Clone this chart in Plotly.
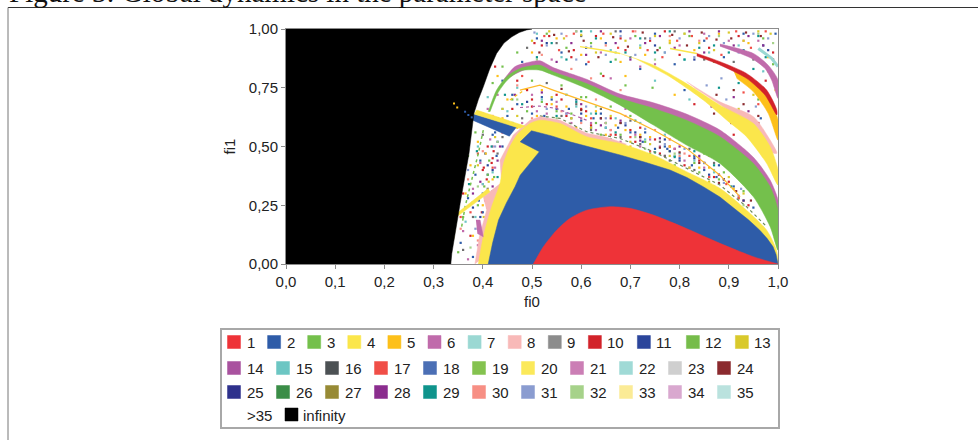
import plotly.graph_objects as go

TITLE = "Figure 3: Global dynamics in the parameter space"
x_ticks = [0, .1, .2, .3, .4, .5, .6, .7, .8, .9, 1]
y_ticks = [0, .25, .5, .75, 1]
legend_rows = [
    ["1","2","3","4","5","6","7","8","9","10","11","12","13"],
    ["14","15","16","17","18","19","20","21","22","23","24"],
    ["25","26","27","28","29","30","31","32","33","34","35"],
]
legend_colors = {
 "1":"#EE3338","2":"#2E5CA8","3":"#74C04C","4":"#FBE64B","5":"#FDC01A","6":"#C06BAB","7":"#9BD8D3",
 "8":"#F8B9B8","9":"#8C8C8C","10":"#D2232A","11":"#2B459B","12":"#76BC4A","13":"#D9C92B","14":"#A9529F",
 "15":"#6CC6C3","16":"#4C5154","17":"#F04E47","18":"#4B6FB5","19":"#84C24F","20":"#FBE95A","21":"#CB7EB5",
 "22":"#A0DAD6","23":"#CFCFCF","24":"#8B2A2E","25":"#2E318C","26":"#3A8D47","27":"#978A35","28":"#8B2D8E",
 "29":"#0F948C","30":"#F78F84","31":"#8A9CD0","32":"#A6D28A","33":"#FBEB96","34":"#D9A8CF","35":"#BAE2DE",
}

# Region outlines (fi0, fi1)
black_x = [0,.335,.337,.345,.354,.363,.372,.382,.391,.401,.414,.428,.443,.459,.474,.489,.50,0]
black_y = [0,0,.045,.15,.258,.365,.471,.641,.70,.754,.83,.896,.94,.967,.985,.996,1.0,1]
red_x = [.5027,.523,.55,.577,.611,.659,.699,.747,.814,.882,.95,1]
red_y = [0,.073,.144,.194,.229,.244,.237,.208,.151,.088,.031,0]
blue_x = [.411,.42,.432,.448,.4655,.476,.515,.476,.499,.54,.577,.63,.679,.73,.7805,.815,.848,.882,.916,.94,.963,.978,.99,.996,1]
blue_y = [0,.09,.187,.26,.329,.378,.478,.52,.567,.545,.52,.492,.464,.433,.4,.368,.329,.285,.229,.188,.144,.108,.073,.04,0]
yellow_x = [.391,.401,.418,.435,.442,.455,.472,.496,.516,.557,.611,.679,.747,.814,.882,.936,.977,.997,1]
yellow_y = [0,.116,.244,.343,.428,.499,.556,.598,.612,.598,.542,.513,.464,.393,.322,.229,.144,.059,0]
spike_x = [.4113,.347,.349,.4147]
spike_y = [.322,.215,.204,.3075]
spike_tail_x = [.348,.341]
spike_tail_y = [.21,.105]
pink_x = [.384,.393,.408,.401,.4384,.435,.462,.496,.516,.557,.611,.652,.692,.6,.45]
pink_y = [0,.116,.23,.286,.347,.442,.549,.612,.627,.612,.556,.539,.51,.4,.1]
wedge_x = [.381,.469,.454,.3795]
wedge_y = [.638,.584,.544,.612]
stripe_x = [.3875,.486,.476,.382]
stripe_y = [.655,.587,.577,.638]
green_x = [.411,.428,.4485,.476,.516,.543,.611,.679,.747,.814,.882,.95,.984,1,1,.984,.95,.882,.814,.747,.679,.611,.543,.516,.476,.45,.43,.4147]
green_y = [.648,.74,.797,.832,.846,.818,.768,.705,.662,.612,.542,.428,.329,.229,.059,.159,.286,.428,.506,.591,.676,.747,.804,.825,.822,.783,.726,.648]
purple_x = [.442,.4655,.489,.516,.543,.611,.679,.747,.814,.882,.95,.984,1,1,.95,.8,.6,.5,.45]
purple_y = [.783,.84,.856,.865,.836,.786,.723,.686,.638,.57,.454,.357,.272,.215,.35,.58,.76,.835,.79]
upyellow_x = [.679,.747,.814,.882,.95,.984,1,1,.977,.936,.896,.848,.78,.713]
upyellow_y = [.896,.846,.768,.676,.598,.499,.4,.336,.428,.542,.612,.698,.797,.871]
uppink_x = [.814,.882,.95,.98,.9976,.98,.9,.83]
uppink_y = [.776,.69,.627,.541,.471,.48,.65,.75]
orange_x = [.909,.95,.984,1,1,.98,.95,.916]
orange_y = [.825,.776,.698,.613,.527,.641,.733,.79]
redband_x = [.835,.882,.936,.977,.9976,.9976,.9736,.936,.882,.835]
redband_y = [.896,.861,.811,.74,.655,.634,.719,.79,.847,.885]
uppurple_x = [.882,.95,.98,1,1,.987,.9736,.9465,.882]
uppurple_y = [.936,.896,.846,.783,.705,.783,.832,.875,.927]
patch_x = [.386,.3945,.401,.389]
patch_y = [.187,.187,.116,.13]
teal_x = [.96,.987,1]
teal_y = [.917,.875,.84]
thin_yellow_x = [.5976,.645,.679]
thin_yellow_y = [.925,.91,.896]
thin_yellow2_x = [.7805,.835]
thin_yellow2_y = [.917,.896]
thin_orange_x = [.4756,.516,.543,.611,.679,.747,.814,.882,.923]
thin_orange_y = [.74,.761,.74,.69,.641,.57,.492,.378,.286]
thin_left_x = [.455,.489]
thin_left_y = [.698,.747]
thin_green_x = [.401,.391,.374,.364,.357]
thin_green_y = [.57,.471,.329,.244,.158]
fringe_x = [.516,.557,.611,.679,.747,.814,.882,.936,.977]
fringe_y = [.63,.62,.563,.534,.478,.407,.336,.244,.159]
thin_purple_x = [.4756,.516,.55,.611]
thin_purple_y = [.666,.672,.662,.612]
black_dots_yellow_x = [.3415,.348]
black_dots_yellow_y = [.683,.666]
black_dots_blue_x = [.364,.3706,.3775]
black_dots_blue_y = [.648,.634,.624]

# Scattered single-pixel results
dots_red_x = [.52,.58,.63,.69,.74,.8,.86,.92,.96,.98,.55,.6,.66,.72,.78,.84,.9,.94,.5,.47,.45,.43,.41,.4,.405,.39,.395,.41,.415,.42,.44,.46,.49,.53,.57,.62,.67,.71,.76,.81,.87,.99,.975,.91,.83,.645,.505,.425,.375,.36,.402,.408,.398,.412,.422,.418,.5,.56,.61,.65,.7,.75,.79,.85,.89,.93,.77,.68,.585,.535]
dots_red_y = [.93,.88,.97,.91,.95,.89,.92,.97,.6,.5,.72,.66,.62,.58,.5,.44,.35,.25,.7,.78,.6,.62,.5,.4,.3,.15,.05,.09,.2,.45,.56,.66,.74,.68,.63,.59,.55,.52,.47,.42,.37,.9,.78,.55,.68,.8,.94,.84,.12,.3,.41,.36,.22,.25,.48,.43,.67,.7,.65,.6,.57,.53,.49,.43,.36,.27,.99,.96,.91,.97]
dots_blue_x = [.51,.56,.61,.65,.7,.75,.79,.85,.89,.93,.97,.995,.54,.59,.64,.68,.73,.77,.83,.88,.91,.95,.48,.46,.44,.42,.405,.385,.37,.355,.38,.4,.415,.43,.45,.47,.5,.52,.55,.6,.65,.7,.75,.8,.85,.9,.965,.985,.395,.41,.4,.392,.425,.428,.525,.575,.625,.675,.725,.775,.825,.875,.72,.81,.905]
dots_blue_y = [.96,.9,.85,.94,.88,.98,.85,.95,.88,.98,.93,.98,.7,.7,.64,.6,.56,.5,.46,.42,.33,.24,.86,.72,.78,.55,.47,.38,.28,.09,.03,.22,.12,.52,.63,.68,.64,.71,.66,.61,.58,.56,.49,.45,.4,.5,.62,.42,.44,.38,.3,.27,.56,.46,.63,.66,.62,.58,.52,.49,.42,.37,.83,.74,.66]
dots_green_x = [.53,.57,.62,.67,.71,.76,.82,.87,.93,.97,.99,.5,.56,.61,.66,.7,.75,.8,.85,.89,.93,.47,.44,.42,.4,.385,.37,.36,.35,.39,.41,.43,.46,.49,.52,.58,.63,.68,.73,.78,.83,.88,.92,.96,.403,.413,.397,.423,.55,.6,.64,.74,.79,.84,.64,.69,.745]
dots_green_y = [.98,.92,.94,.87,.97,.92,.97,.86,.9,.96,.85,.78,.76,.71,.67,.63,.6,.53,.47,.39,.31,.9,.84,.77,.64,.56,.46,.2,.05,.25,.38,.58,.7,.65,.69,.64,.6,.55,.52,.48,.43,.36,.28,.7,.33,.44,.06,.37,.65,.71,.55,.47,.42,.39,.81,.76,.75]
dots_orange_x = [.5,.55,.6,.64,.68,.73,.78,.83,.88,.94,.98,.52,.57,.63,.69,.74,.79,.84,.9,.45,.43,.41,.39,.375,.365,.38,.4,.42,.44,.47,.51,.54,.59,.65,.7,.76,.82,.87,.955,.995,.406,.416,.54,.61,.67,.72,.78,.86,.91,.69,.79]
dots_orange_y = [.9,.96,.89,.96,.86,.89,.95,.91,.98,.94,.88,.74,.67,.65,.57,.54,.46,.41,.42,.7,.8,.6,.52,.42,.3,.12,.25,.36,.62,.58,.63,.6,.58,.55,.5,.44,.38,.33,.55,.74,.47,.28,.68,.63,.59,.55,.5,.41,.32,.8,.72]
dots_purple_x = [.54,.59,.64,.7,.75,.8,.85,.9,.96,.5,.55,.6,.65,.69,.74,.79,.84,.88,.92,.46,.43,.41,.395,.38,.36,.37,.39,.41,.42,.445,.48,.53,.58,.63,.68,.72,.77,.82,.86,.405,.4,.415,.425,.51,.57,.62,.66,.71,.76,.81,.85,.66,.72]
dots_purple_y = [.87,.99,.9,.96,.85,.93,.98,.95,.95,.72,.69,.62,.6,.66,.53,.49,.45,.38,.29,.82,.72,.66,.43,.32,.14,.02,.08,.18,.5,.6,.6,.64,.6,.57,.52,.5,.46,.41,.37,.27,.34,.53,.41,.65,.64,.6,.57,.55,.5,.44,.41,.79,.84]
dots_teal_x = [.51,.56,.62,.66,.72,.77,.81,.86,.92,.97,.47,.52,.57,.62,.67,.72,.77,.83,.44,.41,.39,.365,.385,.4,.43,.45,.5,.6,.7,.8,.89,.53,.59,.65,.73,.79,.87,.41,.42,.75,.82]
dots_teal_y = [.98,.88,.99,.91,.93,.9,.87,.9,.93,.82,.75,.7,.72,.64,.62,.6,.55,.44,.66,.71,.5,.18,.2,.34,.58,.65,.6,.56,.48,.47,.44,.62,.67,.58,.53,.46,.39,.24,.39,.78,.7]
dots_gray_x = [.49,.55,.6,.67,.73,.79,.85,.91,.95,.53,.59,.64,.7,.76,.82,.87,.43,.4,.38,.36,.41,.44,.48,.58,.68,.78,.56,.62,.66,.72,.77,.83,.42,.404]
dots_gray_y = [.92,.94,.97,.99,.96,.99,.87,.86,.87,.77,.68,.66,.61,.52,.49,.43,.47,.55,.2,.06,.32,.54,.62,.62,.54,.44,.63,.57,.53,.51,.46,.4,.31,.16]
dots_pink_x = [.52,.57,.65,.71,.78,.84,.93,.5,.56,.63,.69,.75,.81,.86,.42,.4,.37,.355,.39,.43,.47,.54,.6,.66,.72,.8,.58,.62,.68,.74,.84]
dots_pink_y = [.89,.97,.93,.99,.97,.95,.95,.62,.65,.7,.63,.57,.47,.46,.63,.48,.36,.15,.1,.6,.76,.58,.6,.57,.54,.46,.83,.79,.74,.66,.59]
dots_navy_x = [.53,.61,.68,.75,.83,.9,.98,.49,.6,.69,.77,.85,.38,.4,.41,.42,.44,.62,.72,.8,.89,.93,.97,.55,.64,.71,.78,.83,.86,.41,.395]
dots_navy_y = [.94,.92,.99,.93,.87,.92,.91,.69,.64,.59,.53,.43,.24,.13,.03,.4,.5,.58,.54,.44,.36,.27,.49,.6,.62,.56,.48,.45,.38,.42,.2]
dots_lime_x = [.51,.59,.67,.75,.81,.88,.96,.99,.47,.55,.63,.71,.79,.87,.93,.39,.41,.375,.43,.57,.65,.73,.81]
dots_lime_y = [.87,.99,.9,.87,.98,.97,.98,.94,.7,.62,.67,.54,.47,.4,.25,.33,.22,.07,.52,.72,.6,.49,.6]
# Second pass over the busiest patches: top edge, right side, under the green band, left rim
dots_wine_x = [.515,.545,.575,.605,.635,.665,.695,.725,.755,.785,.815,.845,.875,.905,.935,.965,.99,.87,.905,.93,.96,.875,.91,.945,.56,.6,.64,.68,.72,.76,.8,.84,.88,.915,.945]
dots_wine_y = [.9,.975,.905,.95,.88,.965,.925,.985,.91,.975,.93,.985,.955,.96,.985,.97,.87,.64,.6,.68,.63,.72,.74,.79,.745,.655,.62,.6,.54,.495,.475,.43,.345,.31,.27]
dots_sky_x = [.505,.53,.56,.59,.62,.65,.68,.71,.74,.77,.8,.83,.86,.89,.92,.95,.98,.895,.925,.955,.855,.885,.53,.57,.61,.65,.69,.73,.77,.81,.85,.89,.925,.37,.385,.4,.41,.415,.425]
dots_sky_y = [.985,.93,.98,.87,.925,.89,.97,.89,.96,.9,.96,.88,.97,.94,.9,.98,.96,.7,.64,.67,.76,.79,.66,.64,.67,.62,.6,.575,.51,.49,.43,.345,.32,.4,.15,.07,.29,.16,.5]
dots_plum_x = [.52,.55,.58,.61,.64,.67,.7,.73,.76,.79,.82,.85,.88,.91,.94,.97,.865,.91,.94,.97,.52,.56,.6,.64,.68,.72,.76,.8,.84,.88,.38,.395,.405,.41,.42,.43,.435,.45,.465]
dots_plum_y = [.95,.86,.94,.89,.99,.94,.87,.94,.97,.92,.99,.9,.99,.93,.97,.93,.67,.71,.65,.71,.73,.59,.68,.59,.61,.525,.535,.5,.46,.38,.3,.35,.04,.12,.33,.44,.5,.56,.72]
dots_gold_x = [.5,.535,.565,.6,.63,.66,.69,.72,.75,.78,.81,.84,.87,.9,.93,.96,.985,.89,.92,.95,.98,.54,.58,.62,.66,.7,.74,.78,.82,.86,.9,.93,.378,.39,.402,.412,.425,.44,.47]
dots_gold_y = [.95,.99,.96,.975,.9,.98,.95,.92,.97,.94,.98,.94,.91,.985,.95,.99,.98,.66,.66,.72,.82,.71,.62,.58,.63,.52,.51,.46,.41,.35,.37,.3,.26,.42,.2,.35,.54,.66,.63]
dots_steel_x = [.51,.54,.57,.6,.63,.66,.69,.72,.75,.78,.81,.84,.87,.9,.93,.96,.92,.95,.975,.88,.55,.59,.63,.67,.71,.75,.79,.83,.87,.905,.372,.388,.398,.408,.418,.43,.445,.46,.48]
dots_steel_y = [.88,.94,.87,.99,.96,.86,.9,.96,.9,.99,.87,.92,.93,.9,.91,.97,.77,.83,.88,.75,.63,.69,.64,.56,.61,.475,.455,.48,.42,.33,.34,.48,.14,.08,.5,.37,.72,.6,.68]
dots_rose_x = [.525,.555,.585,.615,.645,.675,.705,.735,.765,.795,.825,.855,.885,.915,.945,.975,.9,.93,.96,.55,.58,.62,.66,.7,.74,.78,.82,.86,.895,.92,.355,.375,.39,.4,.41,.42,.44,.48]
dots_rose_y = [.97,.91,.98,.86,.98,.92,.99,.91,.88,.95,.97,.96,.89,.99,.92,.99,.63,.73,.68,.67,.57,.62,.55,.54,.48,.53,.46,.37,.34,.28,.2,.22,.47,.14,.24,.41,.6,.8]
dot_groups = [
    (dots_red_x, dots_red_y, "#D2232A"), (dots_blue_x, dots_blue_y, "#2E5CA8"), (dots_green_x, dots_green_y, "#74C04C"),
    (dots_orange_x, dots_orange_y, "#FDC01A"), (dots_purple_x, dots_purple_y, "#C06BAB"), (dots_teal_x, dots_teal_y, "#6CC6C3"),
    (dots_gray_x, dots_gray_y, "#6E6E6E"), (dots_pink_x, dots_pink_y, "#F78F84"), (dots_navy_x, dots_navy_y, "#2B459B"),
    (dots_lime_x, dots_lime_y, "#A6D28A"), (dots_wine_x, dots_wine_y, "#8B2A2E"), (dots_sky_x, dots_sky_y, "#8A9CD0"),
    (dots_plum_x, dots_plum_y, "#8B2D8E"), (dots_gold_x, dots_gold_y, "#D9C92B"), (dots_steel_x, dots_steel_y, "#0F948C"),
    (dots_rose_x, dots_rose_y, "#F04E47"),
]

# (x, y, colour, spline?) back to front
layers = [
    (pink_x, pink_y, "#F8B9B8", False), (yellow_x, yellow_y, "#FBE64B", True), (spike_x, spike_y, "#FBE64B", False),
    (blue_x, blue_y, "#2E5CA8", False), (red_x, red_y, "#EE3338", True),
    (wedge_x, wedge_y, "#2E5CA8", False), (stripe_x, stripe_y, "#FBE64B", False),
    (purple_x, purple_y, "#C06BAB", True), (green_x, green_y, "#74C04C", True),
    (uppink_x, uppink_y, "#F8B9B8", True), (upyellow_x, upyellow_y, "#FBE64B", True),
    (orange_x, orange_y, "#FDC01A", True), (redband_x, redband_y, "#D2232A", True),
    (uppurple_x, uppurple_y, "#C06BAB", True), (patch_x, patch_y, "#C06BAB", False),
    (black_x, black_y, "#000000", False),
]
thin_lines = [
    (teal_x, teal_y, "#9BD8D3", 3, "solid"),
    (thin_yellow_x, thin_yellow_y, "#FBE64B", 1.5, "solid"),
    (thin_yellow2_x, thin_yellow2_y, "#FBE64B", 1.5, "solid"),
    (thin_orange_x, thin_orange_y, "#FDB92A", 1.2, "solid"),
    (thin_left_x, thin_left_y, "#FDC01A", 1.2, "dot"),
    (thin_green_x, thin_green_y, "#74C04C", 1.5, "dot"),
    (fringe_x, fringe_y, "#6E8B5A", 1.2, "dot"),
    (thin_purple_x, thin_purple_y, "#B05FA5", 1.2, "dot"),
    (spike_tail_x, spike_tail_y, "#FBEB96", 1, "solid"),
]

fig = go.Figure()
for dx, dy, col in dot_groups:
    fig.add_trace(go.Scatter(x=dx, y=dy, mode="markers", showlegend=False, hoverinfo="skip",
                             marker=dict(color=col, size=2.2, symbol="square", line_width=0)))
for lx, ly, col, w, dash in thin_lines:
    fig.add_trace(go.Scatter(x=lx, y=ly, mode="lines", showlegend=False, hoverinfo="skip",
                             line=dict(color=col, width=w, dash=dash)))
for rx, ry, col, smooth in layers:
    fig.add_trace(go.Scatter(x=rx, y=ry, mode="lines", fill="toself", fillcolor=col, showlegend=False,
                             hoverinfo="skip",
                             line=dict(color=col, width=0.5, shape="spline" if smooth else "linear", smoothing=0.7)))
for bx, by, col in [(black_dots_yellow_x, black_dots_yellow_y, "#FDC01A"), (black_dots_blue_x, black_dots_blue_y, "#2E5CA8")]:
    fig.add_trace(go.Scatter(x=bx, y=by, mode="markers", showlegend=False, hoverinfo="skip",
                             marker=dict(color=col, size=2, symbol="square", line_width=0)))

# Page geometry in pixels, mapped to paper fractions
L, R, T, B = 286, 778, 29, 264
def px(v): return (v - L) / (R - L)
def py(v): return (B - v) / (B - T)

shapes, notes = [], []
font = dict(family="Liberation Sans, Arial, sans-serif", size=15, color="#222222")
shapes.append(dict(type="rect", xref="paper", yref="paper", x0=px(221), x1=px(779), y0=py(329), y1=py(428),
                   line=dict(color="#A8A8A8", width=2), fillcolor="white", layer="below"))
row_y = [342, 368, 392]
def legend_item(x, y, label, col):
    if col:
        shapes.append(dict(type="rect", xref="paper", yref="paper", x0=px(x), x1=px(x + 13), y0=py(y - 6.5), y1=py(y + 6.5),
                           fillcolor=col, line=dict(color=col, width=0.5)))
    notes.append(dict(xref="paper", yref="paper", x=px(x + 17), y=py(y), text=label, showarrow=False,
                      xanchor="left", yanchor="middle", font=font))
for labels, y in zip(legend_rows, row_y):
    x = 227.5
    for lab in labels:
        legend_item(x, y, lab, legend_colors[lab])
        x += 40.1 if (len(lab) == 1 and y == row_y[0]) else 49
legend_item(227.5, 415, ">35", None)
notes.append(dict(xref="paper", yref="paper", x=px(301), y=py(415), text="infinity", showarrow=False,
                  xanchor="left", yanchor="middle", font=font))
shapes.append(dict(type="rect", xref="paper", yref="paper", x0=px(285), x1=px(298), y0=py(408), y1=py(421),
                   fillcolor="#000000", line=dict(color="#000000", width=0.5)))
# Page frame and clipped heading from the source document
shapes.append(dict(type="line", xref="paper", yref="paper", x0=px(8), x1=px(978), y0=py(7.5), y1=py(7.5),
                   line=dict(color="#333333", width=1)))
shapes.append(dict(type="line", xref="paper", yref="paper", x0=px(8), x1=px(8), y0=py(7.5), y1=py(440),
                   line=dict(color="#777777", width=1)))
notes.append(dict(xref="paper", yref="paper", x=px(7), y=py(10), text=TITLE, showarrow=False, xanchor="left",
                  yanchor="bottom", font=dict(family="Liberation Serif, serif", size=29, color="#111111")))

axis = dict(showgrid=False, zeroline=False, showline=True, mirror=True, linecolor="#8C8C8C", linewidth=1,
            ticks="outside", ticklen=4, tickcolor="#8C8C8C", tickfont=font)
fig.update_layout(
    width=978, height=440, margin=dict(l=L, r=978 - R, t=T, b=440 - B),
    paper_bgcolor="white", plot_bgcolor="white", separators=",.", showlegend=False,
    shapes=shapes, annotations=notes,
    xaxis=dict(axis, range=[0, 1], tickvals=x_ticks, tickformat=".1f",
               title=dict(text="fi0", font=font, standoff=7)),
    yaxis=dict(axis, range=[0, 1], tickvals=y_ticks, tickformat=".2f",
               title=dict(text="fi1", font=font, standoff=9)),
)
fig.write_html("out.html", config={"displayModeBar": False},
               post_script="document.body.style.margin='0';document.body.style.overflow='hidden';")
